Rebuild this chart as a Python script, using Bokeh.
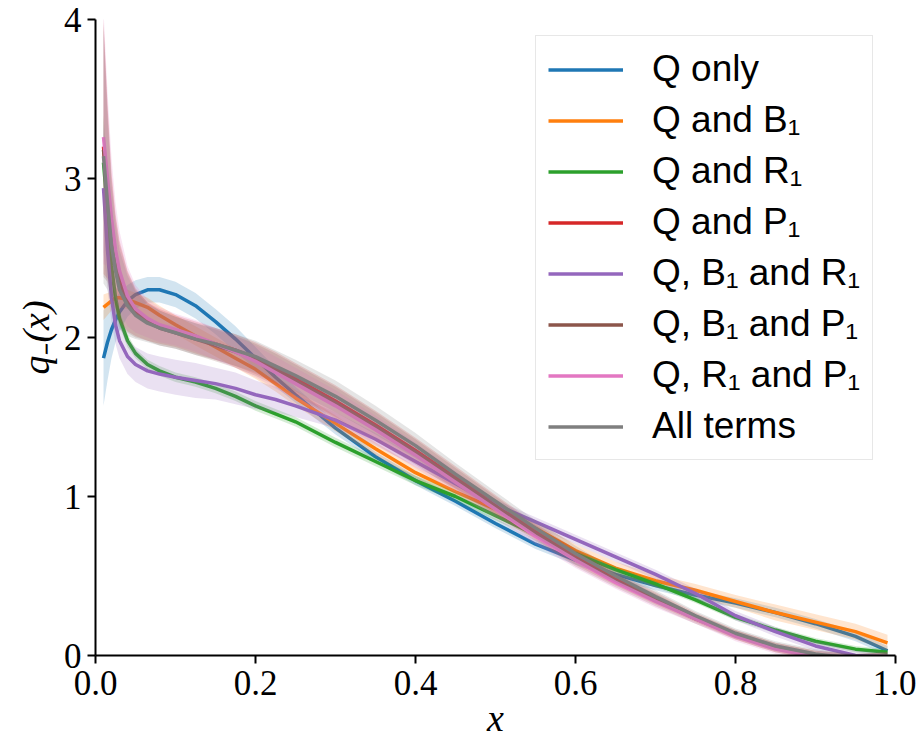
from bokeh.plotting import figure
from bokeh.models import Range1d, FixedTicker, Legend, LegendItem, ColumnDataSource
from bokeh.embed import file_html
from bokeh.resources import INLINE

# ---------------- data ----------------
x = [0.01, 0.015, 0.02, 0.025, 0.03, 0.04, 0.05, 0.065, 0.08, 0.1,
     0.125, 0.15, 0.175, 0.2, 0.225, 0.25, 0.3, 0.35, 0.4, 0.45, 0.5,
     0.55, 0.6, 0.65, 0.7, 0.75, 0.8, 0.85, 0.9, 0.95, 0.99]

legend_labels = ["Q only", "Q and B\u2081", "Q and R\u2081", "Q and P\u2081",
                 "Q, B\u2081 and R\u2081", "Q, B\u2081 and P\u2081",
                 "Q, R\u2081 and P\u2081", "All terms"]
colors = ["#1f77b4", "#ff7f0e", "#2ca02c", "#d62728",
          "#9467bd", "#8c564b", "#e377c2", "#7f7f7f"]

q_only = [1.87, 1.97, 2.05, 2.11, 2.16, 2.23, 2.27, 2.30, 2.30, 2.27,
          2.20, 2.10, 1.99, 1.87, 1.75, 1.64, 1.43, 1.25, 1.10, 0.97, 0.83,
          0.70, 0.60, 0.51, 0.44, 0.38, 0.33, 0.27, 0.20, 0.12, 0.03]
q_b1 = [2.19, 2.21, 2.23, 2.25, 2.25, 2.24, 2.22, 2.19, 2.14, 2.08,
        2.01, 1.94, 1.87, 1.80, 1.71, 1.62, 1.46, 1.30, 1.15, 1.03, 0.92,
        0.80, 0.66, 0.55, 0.47, 0.41, 0.34, 0.27, 0.21, 0.15, 0.08]
q_r1 = [3.10, 2.80, 2.45, 2.25, 2.12, 1.98, 1.90, 1.83, 1.79, 1.75,
        1.72, 1.68, 1.63, 1.57, 1.52, 1.47, 1.34, 1.22, 1.10, 1.00, 0.88,
        0.76, 0.64, 0.54, 0.45, 0.35, 0.24, 0.16, 0.09, 0.04, 0.02]
q_p1 = [3.20, 2.92, 2.66, 2.48, 2.36, 2.23, 2.16, 2.10, 2.07, 2.04,
        2.00, 1.96, 1.92, 1.87, 1.81, 1.74, 1.60, 1.45, 1.29, 1.12, 0.95,
        0.78, 0.62, 0.48, 0.36, 0.24, 0.13, 0.05, 0.00, -0.02, -0.01]
q_b1_r1 = [2.94, 2.55, 2.25, 2.08, 1.98, 1.88, 1.83, 1.79, 1.77, 1.75,
           1.73, 1.71, 1.68, 1.64, 1.61, 1.57, 1.48, 1.36, 1.22, 1.08, 0.95,
           0.84, 0.73, 0.62, 0.51, 0.39, 0.25, 0.15, 0.06, 0.00, -0.01]
q_b1_p1 = [3.18, 2.90, 2.63, 2.46, 2.34, 2.22, 2.15, 2.10, 2.06, 2.03,
           1.99, 1.95, 1.91, 1.86, 1.80, 1.73, 1.59, 1.44, 1.28, 1.11, 0.94,
           0.77, 0.61, 0.47, 0.35, 0.23, 0.13, 0.05, 0.00, -0.02, -0.01]
q_r1_p1 = [3.26, 3.00, 2.75, 2.55, 2.42, 2.26, 2.18, 2.12, 2.08, 2.05,
           2.01, 1.96, 1.91, 1.85, 1.78, 1.71, 1.57, 1.42, 1.26, 1.09, 0.92,
           0.75, 0.60, 0.46, 0.34, 0.23, 0.12, 0.04, -0.01, -0.03, -0.02]
all_terms = [3.14, 2.85, 2.58, 2.42, 2.30, 2.20, 2.14, 2.09, 2.06, 2.03,
             1.99, 1.96, 1.92, 1.88, 1.82, 1.76, 1.63, 1.48, 1.32, 1.14, 0.97,
             0.80, 0.64, 0.50, 0.37, 0.25, 0.14, 0.06, 0.01, -0.02, -0.01]

# half-widths of the shaded uncertainty bands
hw_q_only = [0.30, 0.24, 0.18, 0.14, 0.12, 0.10, 0.09, 0.08, 0.08, 0.08,
             0.08, 0.08, 0.08, 0.07, 0.06, 0.05, 0.04, 0.03, 0.03, 0.03, 0.03,
             0.03, 0.03, 0.03, 0.03, 0.03, 0.03, 0.03, 0.03, 0.03, 0.03]
hw_q_b1 = [0.08, 0.07, 0.06, 0.06, 0.06, 0.06, 0.06, 0.06, 0.06, 0.06,
           0.06, 0.06, 0.06, 0.06, 0.05, 0.05, 0.05, 0.04, 0.04, 0.04, 0.04,
           0.04, 0.04, 0.04, 0.04, 0.04, 0.04, 0.05, 0.05, 0.05, 0.05]
hw_q_r1 = [0.30, 0.20, 0.12, 0.08, 0.05, 0.04, 0.03, 0.03, 0.03, 0.03,
           0.03, 0.03, 0.03, 0.03, 0.03, 0.03, 0.03, 0.03, 0.03, 0.03, 0.03,
           0.02, 0.02, 0.02, 0.02, 0.02, 0.02, 0.02, 0.02, 0.02, 0.02]
hw_mixed = [0.80, 0.55, 0.38, 0.30, 0.25, 0.19, 0.15, 0.12, 0.11, 0.10,
            0.10, 0.10, 0.10, 0.10, 0.10, 0.10, 0.10, 0.09, 0.08, 0.07, 0.06,
            0.05, 0.05, 0.04, 0.04, 0.03, 0.03, 0.03, 0.03, 0.03, 0.03]
hw_q_b1_r1 = [0.40, 0.25, 0.15, 0.12, 0.11, 0.11, 0.11, 0.11, 0.11, 0.11,
              0.11, 0.10, 0.10, 0.09, 0.08, 0.07, 0.05, 0.04, 0.03, 0.03, 0.03,
              0.03, 0.03, 0.03, 0.03, 0.03, 0.03, 0.03, 0.03, 0.03, 0.03]

x_tick_values = [0.0, 0.2, 0.4, 0.6, 0.8, 1.0]
x_tick_labels = ["0.0", "0.2", "0.4", "0.6", "0.8", "1.0"]
y_tick_values = [0, 1, 2, 3, 4]
y_tick_labels = ["0", "1", "2", "3", "4"]
x_axis_title = "x"
y_axis_title = "q\u208b(x)"

curves = [q_only, q_b1, q_r1, q_p1, q_b1_r1, q_b1_p1, q_r1_p1, all_terms]
bands = [hw_q_only, hw_q_b1, hw_q_r1, hw_mixed, hw_q_b1_r1, hw_mixed, hw_mixed, hw_mixed]

# ---------------- figure ----------------
p = figure(width=916, height=741, output_backend="svg", toolbar_location=None,
           x_range=Range1d(0, 1), y_range=Range1d(0, 4),
           min_border_left=95, min_border_right=21,
           min_border_top=19, min_border_bottom=86)
p.outline_line_color = None
p.xgrid.visible = False
p.ygrid.visible = False
p.background_fill_color = "white"
p.border_fill_color = "white"

items = []
for lab, col, y, hw in zip(legend_labels, colors, curves, bands):
    lo = [a - b for a, b in zip(y, hw)]
    hi = [a + b for a, b in zip(y, hw)]
    src = ColumnDataSource(dict(x=x, y=y, lo=lo, hi=hi))
    p.varea(x="x", y1="lo", y2="hi", source=src, fill_color=col, fill_alpha=0.2)
    r = p.line(x="x", y="y", source=src, line_color=col, line_width=3.5,
               line_join="round")
    items.append(LegendItem(label=lab, renderers=[r]))

# axes
for ax in (p.xaxis[0], p.yaxis[0]):
    ax.axis_line_width = 2
    ax.axis_line_color = "black"
    ax.major_tick_line_width = 2
    ax.major_tick_out = 8
    ax.major_tick_in = 0
    ax.minor_tick_out = 0
    ax.minor_tick_in = 0
    ax.major_label_text_font = "Liberation Serif"
    ax.major_label_text_font_size = "35px"
    ax.major_label_text_color = "black"
    ax.axis_label_text_font = "Liberation Serif"
    ax.axis_label_text_font_style = "italic"
    ax.axis_label_text_font_size = "38px"
    ax.axis_label_text_color = "black"

p.xaxis[0].ticker = FixedTicker(ticks=x_tick_values)
p.xaxis[0].major_label_overrides = dict(zip(x_tick_values, x_tick_labels))
p.yaxis[0].ticker = FixedTicker(ticks=y_tick_values)
p.yaxis[0].major_label_overrides = dict(zip(y_tick_values, y_tick_labels))
p.xaxis[0].axis_label = x_axis_title
p.yaxis[0].axis_label = y_axis_title
p.xaxis[0].major_label_standoff = 7
p.xaxis[0].axis_label_standoff = -1
p.yaxis[0].major_label_standoff = 6
p.yaxis[0].axis_label_standoff = 4
p.yaxis[0].major_label_orientation = "horizontal"

legend = Legend(items=items, location=(440, 195))
legend.margin = 0
legend.padding = 12
legend.spacing = 9
legend.glyph_width = 75
legend.glyph_height = 41
legend.label_height = 41
legend.label_standoff = 29
legend.label_text_font = "Liberation Sans"
legend.label_text_font_size = "37px"
legend.label_text_color = "black"
legend.border_line_color = "#d0d0d0"
legend.border_line_width = 1.5
legend.background_fill_alpha = 0.8
p.add_layout(legend)

open("out.html", "w").write(file_html(p, INLINE))
